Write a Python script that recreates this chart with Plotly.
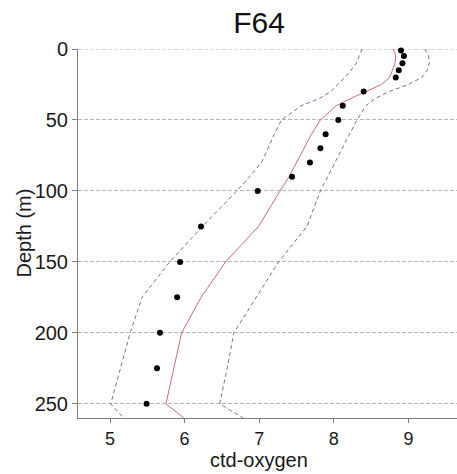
import plotly.graph_objects as go

# Observed CTD oxygen (dots)
obs_depth = [1, 5, 10, 15, 20, 30, 40, 50, 60, 70, 80, 90, 100, 125, 150, 175, 200, 225, 250]
obs_oxygen = [8.90, 8.94, 8.92, 8.87, 8.83, 8.40, 8.12, 8.06, 7.89, 7.82, 7.68, 7.44, 6.98,
              6.22, 5.94, 5.90, 5.67, 5.63, 5.49]

# Mean profile (red line) and bounds (dashed)
prof_depth = [0, 5, 10, 15, 20, 25, 30, 35, 40, 50, 60, 70, 80, 90, 100, 125, 150, 175, 200, 225, 250, 275]
prof_mean = [8.80, 8.83, 8.82, 8.79, 8.75, 8.64, 8.42, 8.22, 8.03, 7.82, 7.70, 7.60, 7.50, 7.40,
             7.28, 6.99, 6.55, 6.22, 5.96, 5.86, 5.75, 6.35]
prof_low = [8.38, 8.34, 8.30, 8.23, 8.15, 8.05, 7.96, 7.80, 7.56, 7.30, 7.20, 7.12, 7.03, 6.87,
            6.70, 6.24, 5.80, 5.43, 5.27, 5.14, 5.01, 5.44]
prof_high = [9.22, 9.27, 9.28, 9.25, 9.18, 9.00, 8.74, 8.55, 8.43, 8.31, 8.21, 8.11, 8.01, 7.92,
             7.82, 7.64, 7.26, 6.96, 6.66, 6.57, 6.47, 7.25]

x_ticks = [5, 6, 7, 8, 9]
y_ticks = [0, 50, 100, 150, 200, 250]

FONT = "Liberation Sans, Arial, sans-serif"
dash_col = "#6f73a3"

fig = go.Figure()
fig.add_trace(go.Scatter(x=prof_low, y=prof_depth, mode="lines",
                         line=dict(color=dash_col, width=1, dash="4px,3px"), showlegend=False))
fig.add_trace(go.Scatter(x=prof_high, y=prof_depth, mode="lines",
                         line=dict(color=dash_col, width=1, dash="4px,3px"), showlegend=False))
fig.add_trace(go.Scatter(x=prof_mean, y=prof_depth, mode="lines",
                         line=dict(color="#cc6f6f", width=1), showlegend=False))
fig.add_trace(go.Scatter(x=obs_oxygen, y=obs_depth, mode="markers", cliponaxis=False,
                         marker=dict(color="black", size=6), showlegend=False))

# surface reference line (depth 0 grid line at the top edge)
fig.add_shape(type="line", xref="paper", x0=0, x1=1, yref="y", y0=y_ticks[0], y1=y_ticks[0],
              line=dict(color="#b5b5b5", width=1, dash="4px,2px"), layer="below")

fig.update_layout(
    width=457, height=474,
    margin=dict(l=78, r=0, t=49, b=56),
    paper_bgcolor="white", plot_bgcolor="white",
    font=dict(family=FONT, size=20, color="#1a1a1a"),
    title=dict(text="F64", x=259/457, xanchor="center", xref="container",
               y=1 - 22/474, yanchor="middle", yref="container",
               font=dict(family=FONT, size=30, color="#111111")),
    xaxis=dict(range=[4.571, 9.651], tickvals=x_ticks, ticktext=[str(v) for v in x_ticks],
               showgrid=False, zeroline=False, showline=True, linecolor="#7f7f7f", linewidth=1,
               ticks="outside", ticklen=4, tickcolor="#7f7f7f", tickfont=dict(size=18)),
    yaxis=dict(range=[260, 0], tickvals=y_ticks, ticktext=[str(v) for v in y_ticks],
               showgrid=True, gridcolor="#b5b5b5", griddash="4px,2px", gridwidth=1,
               zeroline=False, showline=True, linecolor="#7f7f7f", linewidth=1,
               ticks="outside", ticklen=5, tickcolor="#7f7f7f"),
    annotations=[
        dict(text="ctd-oxygen", xref="paper", yref="paper", x=(259 - 78) / 379,
             y=-(460 - 418) / 369, xanchor="center", yanchor="middle", showarrow=False,
             font=dict(family=FONT, size=20, color="#1a1a1a")),
        dict(text="Depth (m)", xref="paper", yref="paper", x=(23 - 78) / 379,
             y=0.5, xanchor="center", yanchor="middle", textangle=-90, showarrow=False,
             font=dict(family=FONT, size=20, color="#1a1a1a")),
    ],
)

fig.write_html("out.html")
